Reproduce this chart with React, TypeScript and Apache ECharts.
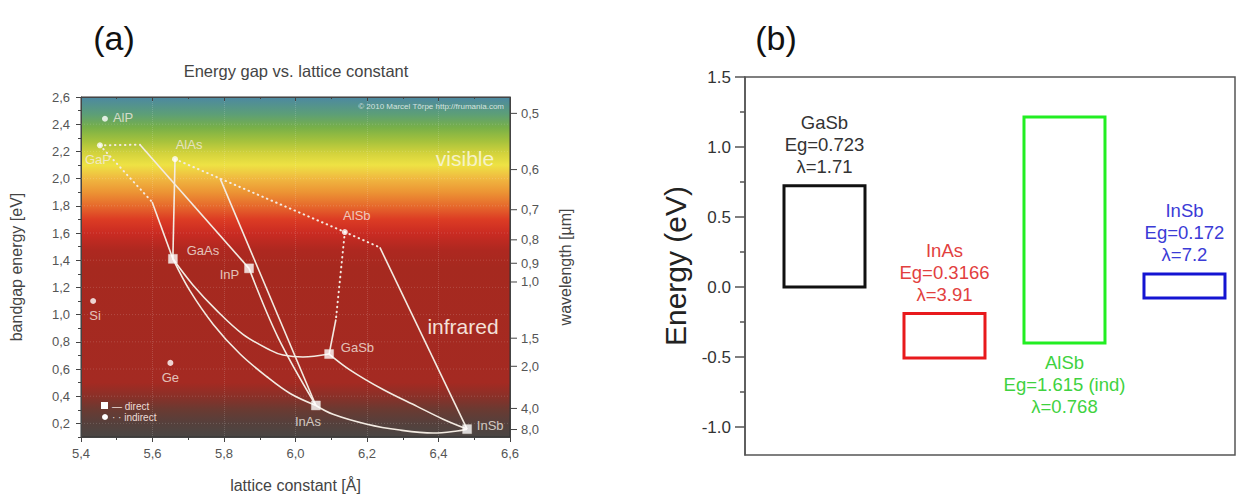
import React, { useEffect, useRef } from "react";
import * as echarts from "echarts";

// ---------- Panel (a): energy gap vs lattice constant ----------
const energyMajorTicks = [0.2, 0.4, 0.6, 0.8, 1.0, 1.2, 1.4, 1.6, 1.8, 2.0, 2.2, 2.4, 2.6];
const energyMinorTicks = [0.1, 0.3, 0.5, 0.7, 0.9, 1.1, 1.3, 1.5, 1.7, 1.9, 2.1, 2.3, 2.5];
const wavelengthTicks = [0.5, 0.6, 0.7, 0.8, 0.9, 1.0, 1.5, 2.0, 4.0, 8.0];

const directNames = ["GaAs", "InP", "GaSb", "InAs", "InSb"];
const directLattice = [5.657, 5.87, 6.094, 6.057, 6.48];
const directGap = [1.41, 1.34, 0.71, 0.332, 0.158];

const indirectNames = ["AlP", "GaP", "AlAs", "AlSb", "Si", "Ge"];
const indirectLattice = [5.467, 5.453, 5.663, 6.138, 5.434, 5.65];
const indirectGap = [2.44, 2.245, 2.143, 1.607, 1.1, 0.645];

// alloy curves [lattice, gap]
const gaInPIndirect = [[5.453, 2.245], [5.565, 2.249]];
const gaInPDirect = [[5.565, 2.249], [5.87, 1.34]];
const gaAsPIndirect = [[5.453, 2.245], [5.599, 1.828]];
const gaAsPDirect = [[5.599, 1.828], [5.657, 1.41]];
const alGaAs = [[5.663, 2.143], [5.657, 1.41]];
const alAsSbIndirect = [[5.663, 2.143], [6.138, 1.607]];
const alInAsDirect = [[5.789, 2.002], [6.057, 0.332]];
const alInSbIndirect = [[6.138, 1.607], [6.236, 1.494]];
const alInSbDirect = [[6.236, 1.494], [6.48, 0.158]];
const alGaSbIndirect = [[6.138, 1.607], [6.113, 0.964]];
const alGaSbDirect = [[6.113, 0.964], [6.094, 0.71]];
const gaAsSb = [[5.657, 1.41], [5.713, 1.218], [5.78, 1.029], [5.853, 0.855], [5.929, 0.739], [5.965, 0.703], [6.021, 0.688], [6.094, 0.71]];
const gaInAs = [[5.657, 1.41], [5.705, 1.174], [5.77, 0.928], [5.845, 0.71], [5.92, 0.543], [5.985, 0.42], [6.057, 0.332]];
const inAsP = [[5.87, 1.34], [5.951, 0.833], [6.057, 0.332]];
const gaInSb = [[6.094, 0.71], [6.152, 0.594], [6.245, 0.449], [6.34, 0.325], [6.413, 0.231], [6.48, 0.158]];
const inAsSb = [[6.057, 0.332], [6.105, 0.267], [6.2, 0.194], [6.292, 0.151], [6.385, 0.129], [6.452, 0.144], [6.48, 0.158]];

// ---------- Panel (b): band alignment ----------
const bandNames = ["GaSb", "InAs", "AlSb", "InSb"];
const bandSlot = [1, 2, 3, 4];
const bandTop = [0.723, -0.19, 1.215, 0.093];
const bandBottom = [0, -0.5066, -0.4, -0.079];
const bandEg = ["0.723", "0.3166", "1.615 (ind)", "0.172"];
const bandLambda = ["1.71", "3.91", "0.768", "7.2"];
const bandTicksMajor = [-1.0, -0.5, 0.0, 0.5, 1.0, 1.5];
const bandTicksMinor = [-0.75, -0.25, 0.25, 0.75, 1.25];

// styles
const FONT = "'Liberation Sans', Arial, sans-serif";
const bandStroke = ["#111111", "#e8191c", "#22ee22", "#1414d2"];
const bandText = ["#333333", "#e2403e", "#3fd23f", "#3b3bd6"];
const bandLabelBelow = [false, false, true, false];
const labelPlace: Record<string, { position: string; offset: number[] }> = {
  AlP: { position: "right", offset: [0, -1] },
  GaP: { position: "bottom", offset: [-2, 0] },
  AlAs: { position: "top", offset: [14, 0] },
  GaAs: { position: "right", offset: [4, -8] },
  InP: { position: "left", offset: [0, 6] },
  AlSb: { position: "top", offset: [12, -2] },
  GaSb: { position: "right", offset: [2, -7] },
  InAs: { position: "bottom", offset: [-8, 0] },
  InSb: { position: "right", offset: [0, -4] },
  Si: { position: "bottom", offset: [2, 0] },
  Ge: { position: "bottom", offset: [0, 0] },
};
const comma = (v: number) => v.toFixed(1).replace(".", ",");
const LINE = "#f3ebe2";

function lineSeries(data: number[][], dotted: boolean, smooth = false) {
  return {
    type: "line",
    xAxisIndex: 0,
    yAxisIndex: 0,
    data,
    showSymbol: false,
    symbol: "none",
    smooth: smooth ? 0.35 : false,
    silent: true,
    z: 3,
    lineStyle: dotted
      ? { color: LINE, width: 2, type: [0.5, 4.5], cap: "round" }
      : { color: LINE, width: 1.6 },
  };
}

export default function App() {
  const ref = useRef<HTMLDivElement>(null);
  useEffect(() => {
    if (!ref.current) return;
    const chart = echarts.init(ref.current, null, { renderer: "svg" });
    const bg = new echarts.graphic.LinearGradient(0, 0, 0, 1, [
      { offset: 0, color: "#4c88a2" },
      { offset: 0.05, color: "#5c9e78" },
      { offset: 0.09, color: "#78b048" },
      { offset: 0.13, color: "#a6c23c" },
      { offset: 0.165, color: "#d2d23c" },
      { offset: 0.2, color: "#eee244" },
      { offset: 0.24, color: "#f0b840" },
      { offset: 0.28, color: "#ec9434" },
      { offset: 0.32, color: "#e66a2c" },
      { offset: 0.36, color: "#dc3c24" },
      { offset: 0.4, color: "#ca2b22" },
      { offset: 0.45, color: "#ae2820" },
      { offset: 0.5, color: "#a6291f" },
      { offset: 0.84, color: "#a42a22" },
      { offset: 0.88, color: "#8a3028" },
      { offset: 0.92, color: "#6a3a32" },
      { offset: 0.96, color: "#55403c" },
      { offset: 1, color: "#4a4644" },
    ]);

    const axisGray = "#444";
    const option: any = {
      animation: false,
      backgroundColor: "#ffffff",
      textStyle: { fontFamily: FONT },
      grid: [
        { left: 81, top: 97, width: 429, height: 344, show: true, backgroundColor: bg, borderColor: "#333", borderWidth: 1 },
        { left: 745, top: 77, width: 490, height: 378, show: true, backgroundColor: "#ffffff", borderColor: "#555", borderWidth: 1.5 },
      ],
      xAxis: [
        {
          gridIndex: 0, type: "value", min: 5.4, max: 6.6, interval: 0.2, position: "bottom",
          axisLine: { show: true, lineStyle: { color: axisGray } },
          axisTick: { show: true, length: 5, lineStyle: { color: axisGray } },
          minorTick: { show: true, splitNumber: 2, length: 3, lineStyle: { color: axisGray } },
          axisLabel: { formatter: comma, color: "#555", fontSize: 13, margin: 10 },
          splitLine: { show: true, lineStyle: { color: "rgba(255,255,255,0.16)", type: "dotted" } },
          name: "lattice constant [Å]", nameLocation: "middle", nameGap: 40,
          nameTextStyle: { color: "#444", fontSize: 16 },
        },
        {
          gridIndex: 0, type: "value", min: 5.4, max: 6.6, interval: 0.2, position: "top",
          axisLine: { show: true, lineStyle: { color: axisGray } },
          axisTick: { show: true, inside: true, length: 4, lineStyle: { color: axisGray } },
          minorTick: { show: true, splitNumber: 2, length: 2, lineStyle: { color: axisGray } },
          axisLabel: { show: false }, splitLine: { show: false },
        },
        { gridIndex: 1, type: "value", min: 0.3375, max: 4.421, show: false },
      ],
      yAxis: [
        {
          gridIndex: 0, type: "value", min: 0.1, max: 2.6, position: "left",
          axisLine: { show: true, lineStyle: { color: axisGray } },
          axisTick: { show: true, length: 5, customValues: energyMajorTicks, lineStyle: { color: axisGray } },
          axisLabel: { customValues: energyMajorTicks, formatter: comma, color: "#555", fontSize: 13, margin: 11 },
          splitLine: { show: false },
          name: "bandgap energy [eV]", nameLocation: "middle", nameGap: 57, nameRotate: 90,
          nameTextStyle: { color: "#444", fontSize: 16 },
        },
        {
          gridIndex: 0, type: "value", min: 0.1, max: 2.6, position: "left",
          axisLine: { show: false },
          axisTick: { show: true, length: 3, customValues: energyMinorTicks, lineStyle: { color: axisGray } },
          axisLabel: { show: false }, splitLine: { show: false },
        },
        {
          gridIndex: 0, type: "value", min: 0.1, max: 2.6, position: "right",
          axisLine: { show: true, lineStyle: { color: axisGray } },
          axisTick: { show: false }, axisLabel: { show: false }, splitLine: { show: false },
          name: "wavelength [µm]", nameLocation: "middle", nameGap: 47, nameRotate: 90,
          nameTextStyle: { color: "#444", fontSize: 16 },
        },
        {
          gridIndex: 1, type: "value", min: -1.2, max: 1.5, position: "left",
          axisLine: { show: true, lineStyle: { color: "#555", width: 1.5 } },
          axisTick: { show: true, length: 10, customValues: bandTicksMajor, lineStyle: { color: "#555", width: 1.5 } },
          axisLabel: { customValues: bandTicksMajor, formatter: (v: number) => v.toFixed(1), color: "#333", fontSize: 17, margin: 14 },
          splitLine: { show: false },
          name: "Energy (eV)", nameLocation: "middle", nameGap: 55, nameRotate: 90,
          nameTextStyle: { color: "#222", fontSize: 30 },
        },
        {
          gridIndex: 1, type: "value", min: -1.2, max: 1.5, position: "left",
          axisLine: { show: false },
          axisTick: { show: true, length: 5, customValues: bandTicksMinor, lineStyle: { color: "#555", width: 1.5 } },
          axisLabel: { show: false }, splitLine: { show: false },
        },
      ],
      series: [
        // horizontal faint grid lines for panel (a)
        {
          type: "custom", xAxisIndex: 0, yAxisIndex: 0, silent: true, z: 1,
          data: energyMajorTicks.slice(0, -1).map((e) => [5.4, e]),
          renderItem: (params: any, api: any) => {
            const a = api.coord([5.4, api.value(1)]);
            const b = api.coord([6.6, api.value(1)]);
            return {
              type: "line",
              shape: { x1: a[0], y1: a[1], x2: b[0], y2: b[1] },
              style: { stroke: "rgba(255,255,255,0.16)", lineWidth: 1, lineDash: [1, 2] },
            };
          },
        },
        lineSeries(gaInPIndirect, true),
        lineSeries(gaInPDirect, false),
        lineSeries(gaAsPIndirect, true),
        lineSeries(gaAsPDirect, false),
        lineSeries(alGaAs, false),
        lineSeries(alAsSbIndirect, true),
        lineSeries(alInAsDirect, false),
        lineSeries(alInSbIndirect, true),
        lineSeries(alInSbDirect, false),
        lineSeries(alGaSbIndirect, true),
        lineSeries(alGaSbDirect, false),
        lineSeries(gaAsSb, false, true),
        lineSeries(gaInAs, false, true),
        lineSeries(inAsP, false, true),
        lineSeries(gaInSb, false, true),
        lineSeries(inAsSb, false, true),
        {
          type: "scatter", xAxisIndex: 0, yAxisIndex: 0, z: 5, symbol: "rect", symbolSize: 9,
          itemStyle: { color: "#ffffff", borderColor: "#e8e0da", borderWidth: 0.5 },
          label: { show: true, formatter: "{b}", color: "#f4ebe2", fontSize: 13, distance: 5 },
          data: directNames.map((n, i) => ({
            name: n, value: [directLattice[i], directGap[i]],
            label: { position: labelPlace[n].position, offset: labelPlace[n].offset },
          })),
        },
        {
          type: "scatter", xAxisIndex: 0, yAxisIndex: 0, z: 5, symbol: "circle", symbolSize: 6,
          itemStyle: { color: "#ffffff" },
          label: { show: true, formatter: "{b}", color: "#f4ebe2", fontSize: 13, distance: 5 },
          data: indirectNames.map((n, i) => ({
            name: n, value: [indirectLattice[i], indirectGap[i]],
            label: { position: labelPlace[n].position, offset: labelPlace[n].offset },
          })),
        },
        // wavelength axis ticks (right side of panel a)
        {
          type: "custom", xAxisIndex: 0, yAxisIndex: 0, silent: true, z: 6,
          data: wavelengthTicks.map((w) => [6.6, 1.2398 / w, w]),
          renderItem: (params: any, api: any) => {
            const p = api.coord([6.6, api.value(1)]);
            return {
              type: "group",
              children: [
                { type: "line", shape: { x1: p[0], y1: p[1], x2: p[0] + 7, y2: p[1] }, style: { stroke: axisGray, lineWidth: 1 } },
                {
                  type: "text", x: p[0] + 11, y: p[1],
                  style: { text: comma(api.value(2)), fill: "#555", fontSize: 13, fontFamily: FONT, align: "left", verticalAlign: "middle" },
                },
              ],
            };
          },
        },
        // panel (b) boxes
        {
          type: "custom", xAxisIndex: 2, yAxisIndex: 3, silent: true, z: 4,
          data: bandNames.map((n, i) => [bandSlot[i], bandBottom[i], bandTop[i], i]),
          renderItem: (params: any, api: any) => {
            const i = api.value(3);
            const xc = api.value(0);
            const half = 0.3375;
            const tl = api.coord([xc - half, api.value(2)]);
            const br = api.coord([xc + half, api.value(1)]);
            const cx = (tl[0] + br[0]) / 2;
            const below = bandLabelBelow[i];
            return {
              type: "group",
              children: [
                {
                  type: "rect",
                  shape: { x: tl[0], y: tl[1], width: br[0] - tl[0], height: br[1] - tl[1] },
                  style: { fill: "none", stroke: bandStroke[i], lineWidth: 3 },
                },
                {
                  type: "text", x: cx, y: below ? br[1] + 8 : tl[1] - 8,
                  style: {
                    text: `${bandNames[i]}\nEg=${bandEg[i]}\nλ=${bandLambda[i]}`,
                    fill: bandText[i], fontSize: 18.5, lineHeight: 22, fontFamily: FONT,
                    align: "center", verticalAlign: below ? "top" : "bottom",
                  },
                },
              ],
            };
          },
        },
      ],
      graphic: [
        { type: "text", x: 114, y: 38, style: { text: "(a)", fill: "#111", fontSize: 34, fontFamily: FONT, align: "center", verticalAlign: "middle" } },
        { type: "text", x: 776, y: 38, style: { text: "(b)", fill: "#111", fontSize: 34, fontFamily: FONT, align: "center", verticalAlign: "middle" } },
        { type: "text", x: 296, y: 71, style: { text: "Energy gap vs. lattice constant", fill: "#444", fontSize: 16.5, fontFamily: FONT, align: "center", verticalAlign: "middle" } },
        { type: "text", x: 504, y: 106, z: 10, style: { text: "© 2010 Marcel Tõrpe http://frumania.com", fill: "rgba(255,255,255,0.75)", fontSize: 8, fontFamily: FONT, align: "right", verticalAlign: "middle" } },
        { type: "text", x: 465, y: 158, z: 10, style: { text: "visible", fill: "#f6f2c8", fontSize: 21, fontFamily: FONT, align: "center", verticalAlign: "middle" } },
        { type: "text", x: 463, y: 326, z: 10, style: { text: "infrared", fill: "#f4e0d8", fontSize: 21, fontFamily: FONT, align: "center", verticalAlign: "middle" } },
        { type: "rect", z: 10, shape: { x: 101, y: 402, width: 7, height: 7 }, style: { fill: "#ffffff" } },
        { type: "text", x: 112, y: 406, z: 10, style: { text: "— direct", fill: "#eedcd6", fontSize: 10, fontFamily: FONT, align: "left", verticalAlign: "middle" } },
        { type: "circle", z: 10, shape: { cx: 105, cy: 417, r: 3 }, style: { fill: "#ffffff" } },
        { type: "text", x: 112, y: 417, z: 10, style: { text: "· · indirect", fill: "#eedcd6", fontSize: 10, fontFamily: FONT, align: "left", verticalAlign: "middle" } },
      ],
    };
    chart.setOption(option);
    return () => chart.dispose();
  }, []);
  return (
    <div
      ref={ref}
      style={{ position: "fixed", left: 0, top: 0, width: 1248, height: 498, background: "#fff" }}
    />
  );
}
